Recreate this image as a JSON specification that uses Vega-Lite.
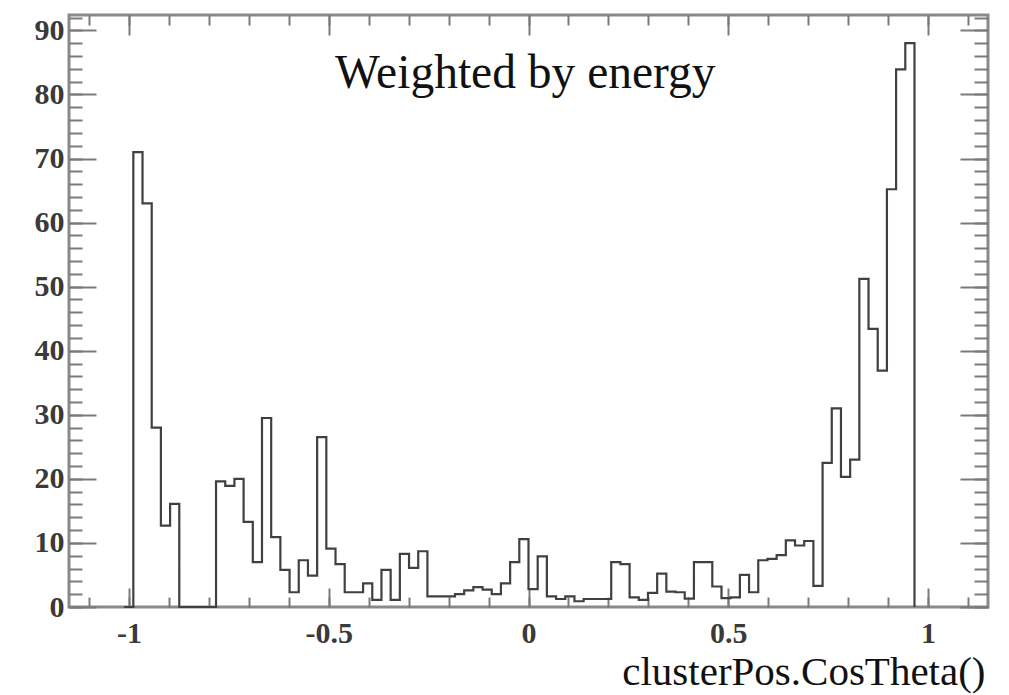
{
  "$schema": "https://vega.github.io/schema/vega-lite/v6.json",
  "width": 919,
  "height": 592,
  "autosize": {"type": "none"},
  "padding": {"left": 69, "top": 15, "right": 21, "bottom": 88},
  "background": "white",
  "config": {
    "view": {"stroke": "#8a8a8a", "strokeWidth": 3},
    "axis": {"grid": false, "domain": false, "labelFont": "Liberation Serif", "titleFont": "Liberation Serif", "tickColor": "#7a7a7a", "tickWidth": 2}
  },
  "data": {"values": [
    {"x": -1.012, "count": 0}, {"x": -0.989, "count": 71}, {"x": -0.966, "count": 63}, {"x": -0.943, "count": 28},
    {"x": -0.92, "count": 12.7}, {"x": -0.897, "count": 16.1}, {"x": -0.874, "count": 0}, {"x": -0.851, "count": 0},
    {"x": -0.828, "count": 0}, {"x": -0.805, "count": 0}, {"x": -0.782, "count": 19.6}, {"x": -0.759, "count": 18.9},
    {"x": -0.736, "count": 20}, {"x": -0.713, "count": 13.3}, {"x": -0.69, "count": 7}, {"x": -0.667, "count": 29.5},
    {"x": -0.644, "count": 10.9}, {"x": -0.621, "count": 5.8}, {"x": -0.598, "count": 2.3}, {"x": -0.575, "count": 7.3},
    {"x": -0.552, "count": 4.9}, {"x": -0.529, "count": 26.5}, {"x": -0.506, "count": 9.1}, {"x": -0.483, "count": 6.7},
    {"x": -0.46, "count": 2.3}, {"x": -0.437, "count": 2.3}, {"x": -0.414, "count": 3.7}, {"x": -0.391, "count": 1.1},
    {"x": -0.368, "count": 5.8}, {"x": -0.345, "count": 1.1}, {"x": -0.322, "count": 8.3}, {"x": -0.299, "count": 6.1},
    {"x": -0.276, "count": 8.7}, {"x": -0.253, "count": 1.65}, {"x": -0.23, "count": 1.65}, {"x": -0.207, "count": 1.65},
    {"x": -0.184, "count": 2.0}, {"x": -0.161, "count": 2.6}, {"x": -0.138, "count": 3.1}, {"x": -0.115, "count": 2.7},
    {"x": -0.092, "count": 2.0}, {"x": -0.069, "count": 3.7}, {"x": -0.046, "count": 7.0}, {"x": -0.023, "count": 10.6},
    {"x": 0, "count": 2.8}, {"x": 0.023, "count": 7.9}, {"x": 0.046, "count": 1.65}, {"x": 0.069, "count": 1.25},
    {"x": 0.092, "count": 1.65}, {"x": 0.115, "count": 0.9}, {"x": 0.138, "count": 1.25}, {"x": 0.161, "count": 1.25},
    {"x": 0.184, "count": 1.25}, {"x": 0.207, "count": 7.0}, {"x": 0.23, "count": 6.7}, {"x": 0.253, "count": 1.5},
    {"x": 0.276, "count": 1.1}, {"x": 0.299, "count": 2.2}, {"x": 0.322, "count": 5.2}, {"x": 0.345, "count": 2.4},
    {"x": 0.368, "count": 2.3}, {"x": 0.391, "count": 1.3}, {"x": 0.414, "count": 7.0}, {"x": 0.437, "count": 7.0},
    {"x": 0.46, "count": 3.2}, {"x": 0.483, "count": 1.4}, {"x": 0.506, "count": 1.5}, {"x": 0.529, "count": 5.0},
    {"x": 0.552, "count": 2.3}, {"x": 0.575, "count": 7.3}, {"x": 0.598, "count": 7.5}, {"x": 0.621, "count": 8.1},
    {"x": 0.644, "count": 10.4}, {"x": 0.667, "count": 9.6}, {"x": 0.69, "count": 10.3}, {"x": 0.713, "count": 3.3},
    {"x": 0.736, "count": 22.5}, {"x": 0.759, "count": 31}, {"x": 0.782, "count": 20.3}, {"x": 0.805, "count": 23},
    {"x": 0.828, "count": 51.2}, {"x": 0.851, "count": 43.4}, {"x": 0.874, "count": 36.9}, {"x": 0.897, "count": 65.2},
    {"x": 0.92, "count": 83.9}, {"x": 0.943, "count": 88}, {"x": 0.966, "count": 0}
  ]},
  "layer": [
    {
      "mark": {"type": "line", "interpolate": "step-after", "stroke": "#404040", "strokeWidth": 2.2},
      "encoding": {
        "x": {"field": "x", "type": "quantitative", "scale": {"domain": [-1.15, 1.15], "nice": false, "zero": false},
          "axis": {"orient": "bottom", "values": [-1, -0.5, 0, 0.5, 1], "ticks": false, "labelExpr": "'' + datum.value",
            "labelFontSize": 30, "labelFontWeight": "bold", "labelColor": "#3a3a3a", "labelPadding": 11, "labelBaseline": "top",
            "labelFlush": false, "labelOverlap": false, "title": "clusterPos.CosTheta()", "titleFontSize": 41, "titleFontWeight": "normal",
            "titleColor": "#111111", "titleX": 916, "titleY": 77, "titleAlign": "right", "titleBaseline": "alphabetic"}},
        "y": {"field": "count", "type": "quantitative", "scale": {"domain": [0, 92.4], "nice": false},
          "axis": {"orient": "left", "values": [0, 10, 20, 30, 40, 50, 60, 70, 80, 90], "ticks": false, "labelExpr": "'' + datum.value",
            "labelFontSize": 30, "labelFontWeight": "bold", "labelColor": "#3a3a3a", "labelPadding": 5, "labelBaseline": "middle",
            "labelFlush": false, "labelOverlap": false, "title": null}}
      }
    },
    {
      "mark": {"type": "line", "strokeOpacity": 0},
      "encoding": {
        "x": {"field": "x", "type": "quantitative", "scale": {"domain": [-1.15, 1.15], "nice": false, "zero": false},
          "axis": {"orient": "bottom", "values": [-1.1, -1, -0.9, -0.8, -0.7, -0.6, -0.5, -0.4, -0.3, -0.2, -0.1, 0, 0.1, 0.2, 0.3, 0.4, 0.5, 0.6, 0.7, 0.8, 0.9, 1, 1.1],
            "labels": false, "tickSize": -10, "title": null}},
        "y": {"field": "count", "type": "quantitative", "scale": {"domain": [0, 92.4], "nice": false},
          "axis": {"orient": "left", "values": [0, 2, 4, 6, 8, 10, 12, 14, 16, 18, 20, 22, 24, 26, 28, 30, 32, 34, 36, 38, 40, 42, 44, 46, 48, 50, 52, 54, 56, 58, 60, 62, 64, 66, 68, 70, 72, 74, 76, 78, 80, 82, 84, 86, 88, 90, 92],
            "labels": false, "tickSize": -13, "title": null}}
      }
    },
    {
      "mark": {"type": "line", "strokeOpacity": 0},
      "encoding": {
        "x": {"field": "x", "type": "quantitative", "scale": {"domain": [-1.15, 1.15], "nice": false, "zero": false},
          "axis": {"orient": "bottom", "values": [-1, -0.5, 0, 0.5, 1], "labels": false, "tickSize": -19, "title": null}},
        "y": {"field": "count", "type": "quantitative", "scale": {"domain": [0, 92.4], "nice": false},
          "axis": {"orient": "left", "values": [0, 10, 20, 30, 40, 50, 60, 70, 80, 90], "labels": false, "tickSize": -27, "title": null}}
      }
    },
    {
      "mark": {"type": "line", "strokeOpacity": 0},
      "encoding": {
        "x": {"field": "x", "type": "quantitative", "scale": {"domain": [-1.15, 1.15], "nice": false, "zero": false},
          "axis": {"orient": "top", "values": [-1.1, -1, -0.9, -0.8, -0.7, -0.6, -0.5, -0.4, -0.3, -0.2, -0.1, 0, 0.1, 0.2, 0.3, 0.4, 0.5, 0.6, 0.7, 0.8, 0.9, 1, 1.1],
            "labels": false, "tickSize": -10, "title": null}},
        "y": {"field": "count", "type": "quantitative", "scale": {"domain": [0, 92.4], "nice": false},
          "axis": {"orient": "right", "values": [0, 2, 4, 6, 8, 10, 12, 14, 16, 18, 20, 22, 24, 26, 28, 30, 32, 34, 36, 38, 40, 42, 44, 46, 48, 50, 52, 54, 56, 58, 60, 62, 64, 66, 68, 70, 72, 74, 76, 78, 80, 82, 84, 86, 88, 90, 92],
            "labels": false, "tickSize": -14, "title": null}}
      }
    },
    {
      "mark": {"type": "line", "strokeOpacity": 0},
      "encoding": {
        "x": {"field": "x", "type": "quantitative", "scale": {"domain": [-1.15, 1.15], "nice": false, "zero": false},
          "axis": {"orient": "top", "values": [-1, -0.5, 0, 0.5, 1], "labels": false, "tickSize": -20, "title": null}},
        "y": {"field": "count", "type": "quantitative", "scale": {"domain": [0, 92.4], "nice": false},
          "axis": {"orient": "right", "values": [0, 10, 20, 30, 40, 50, 60, 70, 80, 90], "labels": false, "tickSize": -28, "title": null}}
      }
    },
    {
      "data": {"values": [{"label": "Weighted by energy"}]},
      "mark": {"type": "text", "font": "Liberation Serif", "fontSize": 47.5, "color": "#111111", "align": "center", "baseline": "alphabetic"},
      "encoding": {
        "x": {"datum": -0.008, "type": "quantitative", "axis": null},
        "y": {"datum": 81, "type": "quantitative", "axis": null},
        "text": {"field": "label"}
      }
    }
  ],
  "resolve": {"axis": {"x": "independent", "y": "independent"}}
}
